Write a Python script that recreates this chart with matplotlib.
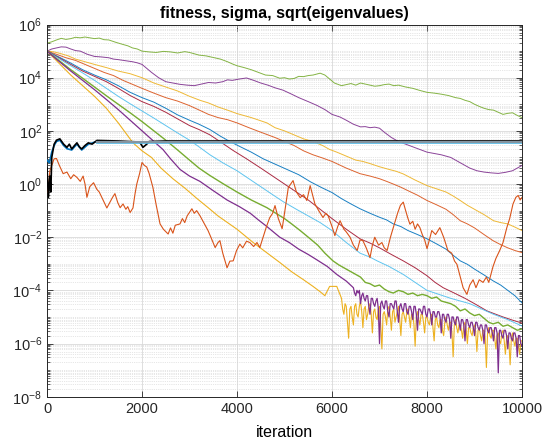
import numpy as np
import matplotlib
matplotlib.use("Agg")
import matplotlib.pyplot as plt
from matplotlib.ticker import LogLocator, NullFormatter, FixedLocator

plt.rcParams['font.family'] = ['Liberation Sans', 'DejaVu Sans']
plt.rcParams['mathtext.default'] = 'regular'

# MATLAB default colours
c_blue = '#0072BD'
c_orange = '#D95319'
c_yellow = '#EDB120'
c_purple = '#7E2F8E'
c_green = '#77AC30'
c_lblue = '#4DBEEE'
c_red = '#A2142F'

# all values are log10 of the plotted quantity
green_top_it = [0, 100, 200, 300, 400, 500, 600, 700, 800, 900, 1000, 1100, 1200, 1300, 1450, 1600, 1700, 1800, 1900,
                2000, 2150, 2300, 2450, 2600, 2750, 2900, 3000, 3100, 3200, 3350, 3500, 3650, 3800, 3900, 4000, 4150,
                4300, 4450, 4600, 4750, 4900, 5000, 5100, 5200, 5300, 5400, 5500, 5600, 5750, 5850, 5950, 6050, 6200,
                6300, 6400, 6500, 6600, 6700, 6800, 6900, 7000, 7100, 7200, 7300, 7400, 7550, 7700, 7850, 8000, 8150,
                8300, 8450, 8600, 8700, 8800, 8900, 9000, 9100, 9200, 9300, 9400, 9500, 9600, 9700, 9800, 9900, 10000]
green_top = [5.3, 5.35, 5.42, 5.48, 5.44, 5.47, 5.52, 5.5, 5.53, 5.5, 5.47, 5.49, 5.43, 5.42, 5.33, 5.25, 5.2, 5.12,
             5.08, 5.0, 4.97, 4.95, 4.99, 4.97, 4.93, 4.98, 4.95, 4.9, 4.85, 4.82, 4.76, 4.7, 4.6, 4.52, 4.45, 4.38,
             4.3, 4.2, 4.1, 4.08, 3.98, 4.0, 3.95, 3.97, 4.05, 4.04, 4.08, 4.1, 4.17, 4.1, 3.95, 3.8, 3.7,
             3.74, 3.78, 3.72, 3.8, 3.76, 3.72, 3.68, 3.7, 3.74, 3.76, 3.7, 3.72, 3.65, 3.6, 3.52, 3.45, 3.42,
             3.38, 3.33, 3.25, 3.22, 3.15, 3.1, 3.0, 2.92, 2.85, 2.8, 2.78, 2.7, 2.62, 2.66, 2.68, 2.58, 2.5]

purple_top_it = [0, 100, 200, 300, 400, 500, 600, 700, 850, 1000, 1150, 1300, 1400, 1500, 1650, 1800, 1900, 2000, 2100,
                 2200, 2350, 2500, 2650, 2800, 2950, 3100, 3250, 3400, 3550, 3700, 3800, 3900, 4050, 4200, 4350, 4500,
                 4650, 4800, 4970, 5150, 5300, 5500, 5680, 5850, 6000, 6170, 6300, 6450, 6600, 6700, 6800, 6900, 7000,
                 7100, 7250, 7400, 7550, 7700, 7850, 8000, 8150, 8300, 8500, 8650, 8800, 8900, 9050, 9200, 9350, 9500,
                 9650, 9800, 9900, 10000]
purple_top = [5.0, 5.08, 5.12, 5.16, 5.15, 5.08, 5.02, 5.0, 4.88, 4.8, 4.78, 4.75, 4.7, 4.68, 4.64, 4.6, 4.56, 4.5,
              4.35, 4.2, 4.0, 3.85, 3.8, 3.75, 3.72, 3.7, 3.76, 3.82, 3.8, 3.85, 3.92, 3.9, 3.95, 3.99, 3.9, 3.8,
              3.72, 3.62, 3.53, 3.38, 3.25, 3.1, 2.96, 2.8, 2.62, 2.52, 2.4, 2.25, 2.15, 2.16, 2.12, 2.14, 2.1,
              1.95, 1.75, 1.6, 1.5, 1.4, 1.3, 1.2, 1.15, 1.1, 1.0, 0.85, 0.7, 0.6, 0.5, 0.45, 0.42, 0.4,
              0.44, 0.5, 0.6, 0.7]

yellow_top_it = [0, 150, 300, 450, 600, 800, 1000, 1250, 1500, 1750, 2000, 2250, 2500, 2750, 3000, 3220, 3400, 3600,
                 3800, 4000, 4300, 4630, 4800, 5000, 5200, 5400, 5600, 5800, 5950, 6100, 6300, 6500, 6650, 6800, 7000,
                 7200, 7350, 7500, 7750, 8000, 8200, 8400, 8550, 8700, 8850, 9000, 9200, 9400, 9550, 9700, 9850, 10000]
yellow_top = [5.0, 4.97, 4.9, 4.82, 4.7, 4.6, 4.5, 4.38, 4.25, 4.15, 4.0, 3.8, 3.65, 3.5, 3.3, 3.15, 3.05, 2.9,
              2.78, 2.65, 2.5, 2.3, 2.12, 2.0, 1.85, 1.7, 1.6, 1.45, 1.3, 1.2, 1.05, 0.9, 0.85, 0.77, 0.65,
              0.55, 0.48, 0.38, 0.15, -0.06, -0.18, -0.3, -0.45, -0.62, -0.8, -0.95, -1.15, -1.38, -1.45, -1.5, -1.62,
              -1.75]

brown_it = [0, 200, 400, 600, 800, 1000, 1200, 1400, 1600, 1800, 2000, 2250, 2500, 2750, 3000, 3220, 3400, 3600, 3800,
            4000, 4250, 4500, 4650, 4800, 5000, 5200, 5400, 5600, 5800, 6000, 6300, 6590, 6800, 7000, 7150, 7290,
            7450, 7600, 7800, 8000, 8200, 8400, 8550, 8700, 8850, 9000, 9200, 9390, 9550, 9700, 9850, 10000]
brown = [5.0, 4.88, 4.75, 4.65, 4.5, 4.35, 4.2, 4.08, 3.9, 3.75, 3.6, 3.42, 3.25, 3.12, 2.95, 2.77, 2.62, 2.5, 2.42,
         2.3, 2.12, 1.95, 1.85, 1.75, 1.6, 1.45, 1.25, 1.1, 0.98, 0.85, 0.6, 0.39, 0.3, 0.2, 0.1, 0.0,
         -0.12, -0.25, -0.42, -0.62, -0.78, -0.95, -1.15, -1.38, -1.5, -1.65, -1.9, -2.13, -2.28, -2.4, -2.5, -2.58]

blue_it = [0, 250, 500, 750, 1000, 1250, 1500, 1750, 2000, 2250, 2500, 2750, 3000, 3200, 3430, 3650, 3850, 4050, 4300,
           4550, 4800, 5050, 5300, 5550, 5800, 6000, 6200, 6400, 6590, 6800, 7000, 7150, 7290, 7450, 7600, 7800,
           8000, 8200, 8400, 8550, 8700, 8850, 9000, 9200, 9390, 9550, 9700, 9850, 10000]
blue = [5.0, 4.78, 4.55, 4.3, 4.1, 3.92, 3.7, 3.45, 3.25, 3.08, 2.85, 2.6, 2.4, 2.25, 2.05, 1.8, 1.6, 1.42, 1.2,
        0.95, 0.75, 0.55, 0.35, 0.08, -0.15, -0.32, -0.55, -0.75, -0.93, -1.1, -1.25, -1.35, -1.5, -1.6, -1.75, -1.9,
        -2.06, -2.25, -2.45, -2.68, -2.89, -3.02, -3.2, -3.42, -3.64, -3.8, -4.0, -4.2, -4.47]

red_it = [0, 250, 500, 750, 1000, 1250, 1500, 1750, 2000, 2250, 2500, 2750, 3000, 3200, 3430, 3640, 3920, 4200, 4500,
          4750, 5000, 5250, 5500, 5750, 6000, 6300, 6590, 6800, 7000, 7250, 7500, 7750, 8000, 8170, 8340, 8550, 8800,
          9050, 9260, 9450, 9600, 9800, 10000]
red = [5.0, 4.75, 4.5, 4.25, 4.05, 3.85, 3.6, 3.33, 3.1, 2.92, 2.7, 2.45, 2.2, 2.05, 1.85, 1.6, 1.26, 0.95, 0.6,
       0.3, 0.0, -0.3, -0.6, -0.95, -1.3, -1.7, -2.06, -2.22, -2.4, -2.65, -2.89, -3.15, -3.45, -3.7, -3.9, -4.08, -4.3,
       -4.55, -4.77, -4.9, -5.0, -5.12, -5.23]

lblue_it = [0, 250, 500, 750, 1000, 1250, 1500, 1750, 2000, 2250, 2500, 2750, 3000, 3200, 3430, 3700, 4000, 4250, 4500,
            4750, 4970, 5250, 5500, 5750, 6000, 6300, 6590, 6800, 6950, 7200, 7500, 7750, 8000, 8250, 8500, 8700, 8900,
            9150, 9400, 9700, 10000]
lblue = [5.0, 4.72, 4.45, 4.18, 3.9, 3.6, 3.3, 3.02, 2.75, 2.48, 2.2, 1.92, 1.65, 1.4, 1.1, 0.8, 0.5, 0.2, -0.1,
         -0.4, -0.66, -0.95, -1.2, -1.45, -1.75, -2.2, -2.6, -2.75, -2.89, -3.1, -3.4, -3.7, -4.0, -4.15, -4.3, -4.4,
         -4.5, -4.7, -4.9, -5.1, -5.34]

green_low_it = [0, 250, 500, 750, 1000, 1250, 1500, 1750, 2000, 2250, 2500, 2750, 3000, 3200, 3430, 3700, 4000, 4300,
                4630, 4800, 5000, 5150, 5330, 5500, 5700, 5850, 6020, 6150, 6300, 6450, 6600, 6700,
                6800, 6900, 7000, 7100, 7200, 7290, 7400, 7500, 7600, 7700, 7800, 7900, 8000, 8100, 8200, 8300, 8400,
                8500, 8600, 8700, 8800, 8900, 9000, 9100, 9200, 9300, 9390, 9500, 9600, 9700, 9800, 9900, 10000]
green_low = [5.0, 4.65, 4.3, 3.98, 3.65, 3.32, 3.0, 2.68, 2.35, 2.0, 1.65, 1.28, 0.9, 0.6, 0.32, 0.02, -0.3, -0.6,
             -0.89, -1.08, -1.3, -1.5, -1.75, -2.0, -2.3, -2.6, -2.89, -3.05, -3.2, -3.35, -3.5, -3.7,
             -3.75, -3.85, -3.8, -3.95, -4.05, -4.1, -4.0, -4.05, -4.15, -4.1, -4.2, -4.15, -4.2, -4.3, -4.25, -4.4,
             -4.45, -4.5, -4.6, -4.77, -4.7, -4.85, -4.95, -4.9, -5.05, -5.2, -5.26, -5.2, -5.35, -5.3, -5.4, -5.5,
             -5.45]

# smooth head of the two fastest lines, then the noisy floor (read every 25 iterations)
purple_low_it = [0, 250, 500, 750, 1000, 1250, 1500, 1750, 2000, 2200, 2440, 2600, 2800, 3000, 3220, 3500, 3790, 4050,
                 4280, 4450, 4630, 4900, 5100, 5300, 5500, 5680, 5900, 6100, 6300] + list(range(6450, 10001, 25))
purple_low = [5.0, 4.62, 4.25, 3.9, 3.55, 3.18, 2.8, 2.4, 2.0, 1.68, 1.3, 0.95, 0.55, 0.3, 0.1, -0.25, -0.6, -0.85,
              -1.1, -1.35, -1.6, -2.0, -2.2, -2.45, -2.65, -2.85, -3.1, -3.4, -3.65,
              -3.9, -4.1, -4.2, -4.0, -4.1, -4.0, -4.5, -4.2,
              -4.1, -4.3, -4.4, -4.2, -4.2, -4.6, -4.9, -4.3,
              -4.3, -4.5, -4.6, -4.4, -4.3, -4.7, -6.0, -4.5,
              -4.4, -4.6, -4.7, -4.4, -4.4, -4.8, -5.0, -4.5,
              -4.5, -4.6, -4.7, -4.4, -4.4, -4.8, -5.2, -4.6,
              -4.5, -4.7, -4.8, -4.5, -4.5, -4.8, -4.9, -4.6,
              -4.6, -4.8, -5.1, -4.6, -4.6, -4.9, -5.5, -4.7,
              -4.7, -4.8, -4.9, -4.6, -4.6, -4.9, -5.0, -4.7,
              -4.7, -4.9, -5.3, -4.8, -4.8, -5.0, -5.0, -4.8,
              -4.8, -5.0, -5.6, -4.9, -4.9, -5.1, -5.2, -4.9,
              -4.9, -5.1, -5.8, -5.0, -5.0, -5.2, -5.3, -5.0,
              -5.0, -5.2, -5.5, -5.1, -5.1, -5.3, -5.9, -5.1,
              -5.1, -5.3, -5.4, -5.2, -5.2, -5.4, -5.7, -5.2,
              -5.2, -5.4, -5.5, -5.3, -5.3, -5.5, -6.0, -5.3,
              -5.3, -5.5, -5.6, -5.4, -5.4, -5.6, -5.9, -5.4,
              -5.4, -5.6, -7.1, -5.5, -5.5, -5.7, -5.8, -5.5,
              -5.5, -5.7, -6.2, -5.6, -5.6, -5.8, -5.9, -5.6,
              -5.6, -5.8, -6.5, -5.7, -5.7, -6.0,
              -6.1]

yellow_low_it = [0, 250, 500, 750, 1000, 1250, 1500, 1810, 2000, 2200, 2400, 2650, 2900, 3160, 3400, 3600, 3800, 4000,
                 4170, 4340, 4600, 4900, 5150, 5400, 5600, 5750, 5850, 5950, 6100] + list(range(6200, 10001, 25))
yellow_low = [5.0, 4.55, 4.1, 3.7, 3.3, 2.85, 2.3, 1.55, 1.25, 1.0, 0.6, 0.2, -0.15, -0.55, -0.9, -1.2, -1.45, -1.7,
              -1.95, -2.2, -2.55, -2.95, -3.3, -3.6, -3.85, -4.05, -4.2, -3.85, -3.85,
              -4.3, -4.7, -4.9, -4.5, -4.6, -5.2, -5.8, -4.7,
              -4.6, -5.0, -5.3, -4.6, -4.5, -4.9, -5.0, -4.6,
              -4.4, -4.8, -5.4, -4.7, -4.6, -5.1, -4.9, -4.6,
              -4.5, -4.9, -5.6, -4.8, -4.7, -5.0, -5.1, -4.7,
              -4.6, -5.3, -6.2, -4.9, -4.8, -5.0, -5.3, -4.7,
              -4.6, -5.0, -5.5, -4.8, -4.7, -5.2, -5.0, -4.8,
              -4.6, -5.1, -5.7, -4.9, -4.8, -5.0, -5.2, -4.8,
              -4.7, -5.0, -5.4, -4.9, -4.9, -5.3, -6.1, -5.0,
              -4.8, -5.1, -5.3, -4.9, -4.9, -5.2, -5.6, -5.0,
              -5.0, -5.2, -5.3, -5.0, -4.9, -5.4, -5.9, -5.1,
              -5.0, -5.3, -5.4, -5.1, -5.1, -5.5, -5.7, -5.2,
              -5.0, -5.3, -5.5, -5.2, -5.2, -5.6, -6.5, -5.3,
              -5.1, -5.4, -5.6, -5.3, -5.3, -5.5, -5.8, -5.3,
              -5.2, -5.5, -6.0, -5.4, -5.4, -5.6, -5.7, -5.4,
              -5.3, -5.6, -6.3, -5.5, -5.4, -5.7, -5.9, -5.5,
              -5.5, -5.8, -6.9, -5.6, -5.4, -5.7, -5.8, -5.5,
              -5.5, -5.8, -6.2, -5.7, -5.6, -5.9, -6.0, -5.6,
              -5.5, -5.9, -6.4, -5.8, -5.7, -6.0, -6.8, -5.8,
              -5.6, -5.9, -6.1, -5.8, -5.8, -6.1, -6.4, -5.9,
              -5.9]

fit_it = [20, 60, 150, 200, 260, 340, 420, 500, 560, 630, 700, 760, 800, 840, 900, 980, 1050, 1100, 1180, 1260, 1320,
          1380, 1430, 1490, 1540, 1600, 1660, 1700, 1750, 1810, 1850, 1890, 1950, 2000, 2050, 2100, 2150, 2230, 2300,
          2380, 2450, 2550, 2600, 2650, 2700, 2800, 2850, 2900, 2950, 3050, 3100, 3150, 3220, 3300, 3390, 3450, 3540,
          3600, 3640, 3700, 3790, 3850, 3920, 3990, 4060, 4120, 4200, 4270, 4350, 4420, 4480, 4550, 4620, 4690, 4750,
          4800, 4870, 4950, 5000, 5080, 5130, 5180, 5250, 5330, 5400, 5470, 5540, 5590, 5640, 5720, 5810, 5870, 5920,
          6000, 6060, 6120, 6170, 6250, 6300, 6380, 6450, 6530, 6590, 6650, 6720, 6800, 6850, 6900, 6980, 7050, 7100,
          7160, 7230, 7290, 7380, 7440, 7500, 7550, 7600, 7640, 7700, 7750, 7800, 7850, 7900, 7950, 8000, 8050, 8100,
          8180, 8270, 8350, 8440, 8520, 8580, 8630, 8700, 8760, 8840, 8900, 8970, 9030, 9100, 9180, 9250, 9300, 9390,
          9450, 9530, 9600, 9680, 9740, 9810, 9870, 9920, 9960, 10000]
fit = [-0.3, 0.5, 0.95, 0.96, 0.7, 0.39, 0.45, 0.2, 0.35, 0.25, 0.1, 0.3, 0.0, -0.5, -0.1, 0.05, -0.2, -0.3, -0.6,
       -0.9, -0.7, -0.5, -0.36, -0.7, -0.89, -0.75, -0.95, -0.85, -1.07, -0.9, -0.4, 0.0, 0.4, 0.81, 0.7, 0.64, 0.4,
       -0.13, -0.8, -1.5, -1.7, -1.88, -1.65, -1.85, -1.55, -1.5, -1.3, -1.45, -1.2, -0.93, -1.1, -1.0, -1.19, -1.45,
       -1.75, -2.0, -2.39, -2.2, -2.13, -2.6, -3.15, -2.9, -2.89, -2.5, -2.26, -2.4, -2.15, -2.2, -2.35, -2.2, -2.39,
       -2.0, -1.6, -1.26, -1.1, -0.81, -1.3, -1.68, -1.1, -0.13, 0.0, 0.13, -0.3, -0.51, -0.4, -0.62, -0.06, -0.4,
       -0.75, -1.0, -1.26, -1.1, -1.2, -1.6, -1.94, -1.6, -1.38, -1.7, -1.8, -2.0, -2.3, -2.5, -2.1, -2.13, -2.4,
       -2.77, -2.3, -2.0, -2.3, -2.2, -2.4, -2.5, -2.0, -1.64, -1.1, -0.8, -0.68, -1.0, -1.3, -1.51, -1.4, -1.7,
       -1.5, -1.64, -1.9, -2.1, -2.43, -2.1, -1.75, -1.9, -1.64, -2.0, -2.5, -2.6, -2.9, -3.02, -3.5, -3.9, -4.15,
       -3.8, -3.6, -3.9, -3.6, -3.7, -3.5, -3.7, -3.1, -2.8, -2.5, -2.2, -1.64, -1.3, -0.75, -0.5, -0.43, -0.6, -0.5]

sigma_it = [0, 30, 60, 80, 100, 150, 200, 270, 350, 420, 470, 520, 580, 630, 680, 730, 800, 870, 950, 1050, 1500,
            1950, 2020, 2100, 2150, 2500, 10000]
sigma = [0.6, -0.5, 0.3, -0.3, 1.0, 1.5, 1.65, 1.7, 1.5, 1.38, 1.5, 1.32, 1.45, 1.55, 1.4, 1.32, 1.45, 1.55, 1.5,
         1.64, 1.62, 1.58, 1.38, 1.5, 1.6, 1.62, 1.62]

sigma2_it = [0, 50, 100, 150, 200, 270, 350, 420, 520, 630, 730, 870, 1050]
sigma2 = [0.9, 0.8, 1.2, 1.45, 1.6, 1.65, 1.45, 1.33, 1.28, 1.5, 1.28, 1.5, 1.6]

flat_it = [1050, 10000]
flat = [1.6, 1.6]


def p(ax, it, vals, color, lw=0.7, z=2, alpha=0.9):
    ax.semilogy(it, 10.0 ** np.array(vals), color=color, lw=lw, zorder=z, alpha=alpha)


fig = plt.figure(figsize=(5.44, 4.46), dpi=100)
ax = fig.add_axes([0.0864, 0.1105, 0.8732, 0.8345])

p(ax, green_top_it, green_top, c_green)
p(ax, purple_top_it, purple_top, c_purple)
p(ax, yellow_top_it, yellow_top, c_yellow)
p(ax, brown_it, brown, c_orange)
p(ax, blue_it, blue, c_blue)
p(ax, red_it, red, c_red)
p(ax, lblue_it, lblue, c_lblue)
p(ax, yellow_low_it, yellow_low, c_yellow, lw=0.8, alpha=1)
p(ax, green_low_it, green_low, c_green, lw=1.0, alpha=1)
p(ax, purple_low_it, purple_low, c_purple, lw=0.9, alpha=1)
p(ax, fit_it, fit, c_orange, lw=0.8, z=3, alpha=1)
p(ax, sigma_it, sigma, 'black', lw=1.2, z=3, alpha=1)
p(ax, sigma2_it, sigma2, c_blue, lw=1.2, z=2.9, alpha=1)
p(ax, flat_it, [v - 0.04 for v in flat], c_lblue, lw=1.2, z=3.1, alpha=1)
p(ax, flat_it, flat, '#8595a1', lw=1.6, z=3.2, alpha=1)

ax.set_xlim(0, 10000)
ax.set_ylim(1e-8, 1e6)
ax.set_xticks([0, 2000, 4000, 6000, 8000, 10000])
ax.yaxis.set_major_locator(FixedLocator([10.0 ** k for k in range(-8, 7, 2)]))
ax.yaxis.set_minor_locator(LogLocator(base=10, subs=np.arange(1, 10), numticks=30))
ax.yaxis.set_minor_formatter(NullFormatter())

ax.grid(True, which='major', color='#d9d9d9', lw=0.6, zorder=0)
ax.grid(True, which='minor', axis='y', color='#cfcfcf', lw=0.5, ls=':', zorder=0)
ax.set_axisbelow(True)

ax.tick_params(which='both', direction='in', top=True, right=True, colors='#262626', labelsize=10.5)
ax.tick_params(which='major', length=4, width=0.6)
ax.tick_params(which='minor', length=2, width=0.5)
for s in ax.spines.values():
    s.set_color('#262626')
    s.set_linewidth(0.7)

ax.set_title('fitness, sigma, sqrt(eigenvalues)', fontsize=11.5, fontweight='bold', pad=5)
ax.set_xlabel('iteration', fontsize=11.5, labelpad=7)

fig.savefig('out.png', dpi=100)
